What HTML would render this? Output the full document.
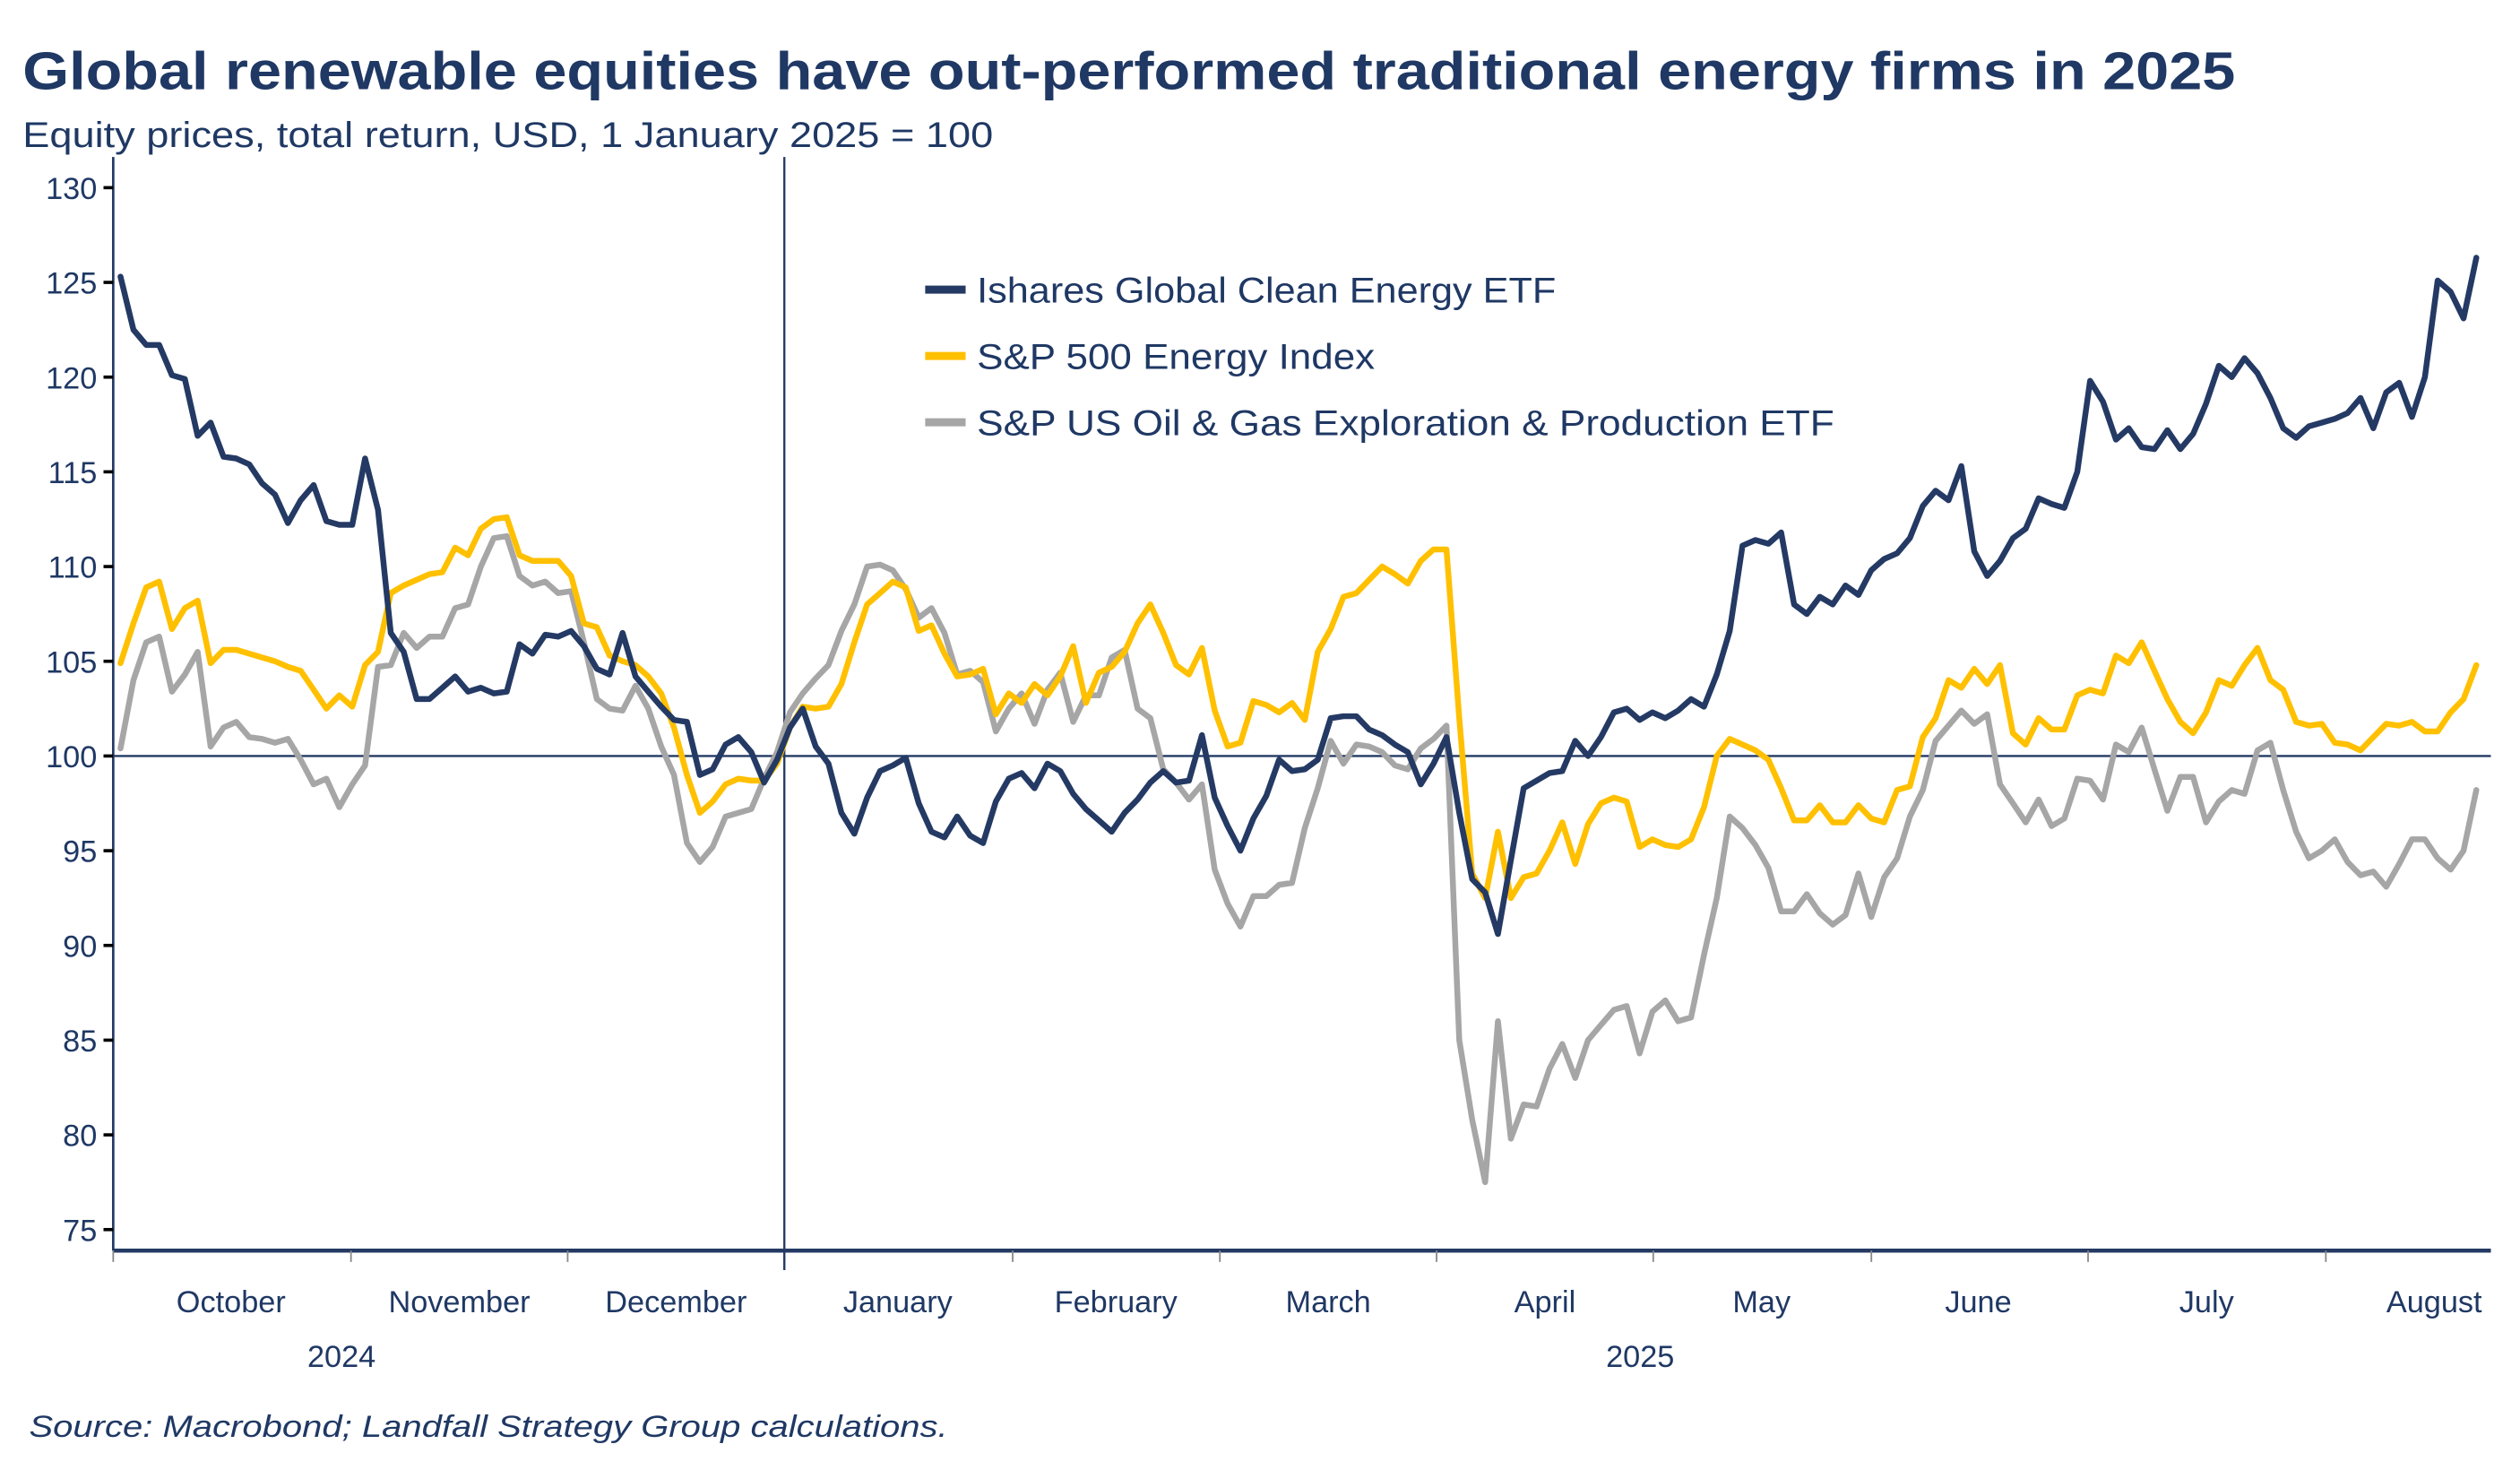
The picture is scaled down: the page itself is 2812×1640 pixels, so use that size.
<!DOCTYPE html>
<html><head><meta charset="utf-8"><style>
html,body{margin:0;padding:0;background:#fff}
svg{display:block}
text{font-family:"Liberation Sans",sans-serif;fill:#1f3864}
</style></head><body>
<svg id="chart" width="2812" height="1640" viewBox="0 0 1558 908.6" preserveAspectRatio="none" xmlns="http://www.w3.org/2000/svg">
<text x="14" y="55" font-size="33" font-weight="bold" textLength="1368" lengthAdjust="spacingAndGlyphs">Global renewable equities have out-performed traditional energy firms in 2025</text>
<text x="14" y="91" font-size="22" textLength="600" lengthAdjust="spacingAndGlyphs">Equity prices, total return, USD, 1 January 2025 = 100</text>
<g id="axes"></g>
<g id="series"></g>
<g>
<line x1="572" x2="597" y1="179" y2="179" stroke="#243a64" stroke-width="5"/>
<text x="604" y="187" font-size="22" textLength="358" lengthAdjust="spacingAndGlyphs">Ishares Global Clean Energy ETF</text>
<line x1="572" x2="597" y1="220" y2="220" stroke="#ffc000" stroke-width="5"/>
<text x="604" y="228" font-size="22" textLength="246" lengthAdjust="spacingAndGlyphs">S&amp;P 500 Energy Index</text>
<line x1="572" x2="597" y1="261" y2="261" stroke="#a6a6a6" stroke-width="5"/>
<text x="604" y="269" font-size="22" textLength="530" lengthAdjust="spacingAndGlyphs">S&amp;P US Oil &amp; Gas Exploration &amp; Production ETF</text>
</g>
<text x="18" y="888" font-size="19" font-style="italic" textLength="568" lengthAdjust="spacingAndGlyphs">Source: Macrobond; Landfall Strategy Group calculations.</text>
</svg>
<script>
const yTicks = [75,80,85,90,95,100,105,110,115,120,125,130];
const months = ["October","November","December","January","February","March","April","May","June","July","August"];
const monthLabelDays = [16.2,47.6,77.4,107.9,137.9,167.1,196.9,226.7,256.5,287.9,319.2];
const monthTickDays = [0,32.7,62.5,92.3,123.7,152.2,182,211.8,241.8,271.6,304.3];
const axisEndDay = 327;
const years = ["2024","2025"];
const yearCenterDays = [31.4,210];
const seriesStartDay = 1;
const seriesEndDay = 325;
const cleanEnergy = [125.3,122.5,121.7,121.7,120.1,119.9,116.9,117.6,115.8,115.7,
115.4,114.4,113.8,112.3,113.5,114.3,112.4,112.2,112.2,115.7,
113,106.5,105.5,103,103,103.6,104.2,103.4,103.6,103.3,
103.4,105.9,105.4,106.4,106.3,106.6,105.8,104.6,104.3,106.5,
104.2,103.4,102.6,101.9,101.8,99,99.3,100.6,101,100.2,
98.6,99.8,101.5,102.5,100.5,99.6,97,95.9,97.8,99.2,
99.5,99.9,97.5,96,95.7,96.8,95.8,95.4,97.6,98.8,
99.1,98.3,99.6,99.2,98,97.2,96.6,96,97,97.7,
98.6,99.2,98.6,98.7,101.1,97.8,96.3,95,96.7,97.9,
99.8,99.2,99.3,99.8,102,102.1,102.1,101.4,101.1,100.6,
100.2,98.5,99.6,101,97,93.5,92.8,90.6,94.5,98.3,
98.7,99.1,99.2,100.8,100,101,102.3,102.5,101.9,102.3,
102,102.4,103,102.6,104.3,106.6,111.1,111.4,111.2,111.8,
108,107.5,108.4,108,109,108.5,109.8,110.4,110.7,111.5,
113.2,114,113.5,115.3,110.8,109.5,110.3,111.5,112,113.6,
113.3,113.1,115,119.8,118.7,116.7,117.3,116.3,116.2,117.2,
116.2,117,118.6,120.6,120,121,120.2,118.9,117.3,116.8,
117.4,117.6,117.8,118.1,118.9,117.3,119.2,119.7,117.9,120,
125.1,124.5,123.1,126.3];
const spEnergy = [104.9,107,108.9,109.2,106.7,107.8,108.2,104.9,105.6,105.6,
105.4,105.2,105,104.7,104.5,103.5,102.5,103.2,102.6,104.8,
105.5,108.6,109,109.3,109.6,109.7,111,110.6,112,112.5,
112.6,110.6,110.3,110.3,110.3,109.5,107,106.8,105.3,105,
104.8,104.2,103.3,101.5,99,97,97.6,98.5,98.8,98.7,
98.7,99.6,101.5,102.6,102.5,102.6,103.8,106,108,108.6,
109.2,108.9,106.6,106.9,105.4,104.2,104.3,104.6,102.2,103.3,
102.8,103.8,103.2,104.2,105.8,102.8,104.4,104.7,105.5,107,
108,106.5,104.8,104.3,105.7,102.4,100.5,100.7,102.9,102.7,
102.3,102.8,101.9,105.5,106.7,108.4,108.6,109.3,110,109.6,
109.1,110.3,110.9,110.9,102,93.8,92.5,96,92.5,93.6,
93.8,95,96.5,94.3,96.4,97.5,97.8,97.6,95.2,95.6,
95.3,95.2,95.6,97.3,100,100.9,100.6,100.3,99.8,98.3,
96.6,96.6,97.4,96.5,96.5,97.4,96.7,96.5,98.2,98.4,
101,102,104,103.6,104.6,103.8,104.8,101.2,100.6,102,
101.4,101.4,103.2,103.5,103.3,105.3,104.9,106,104.5,103,
101.8,101.2,102.3,104,103.7,104.8,105.7,104,103.5,101.8,
101.6,101.7,100.7,100.6,100.3,101,101.7,101.6,101.8,101.3,
101.3,102.3,103,104.8];
const oilGas = [100.4,104,106,106.3,103.4,104.3,105.5,100.5,101.5,101.8,
101,100.9,100.7,100.9,99.8,98.5,98.8,97.3,98.5,99.5,
104.7,104.8,106.5,105.7,106.3,106.3,107.8,108,110,111.5,
111.6,109.5,109,109.2,108.6,108.7,106,103,102.5,102.4,
103.7,102.5,100.5,99,95.4,94.4,95.2,96.8,97,97.2,
98.8,100.2,102.3,103.3,104.1,104.8,106.6,108,110,110.1,
109.8,108.8,107.3,107.8,106.5,104.3,104.5,103.9,101.3,102.5,
103.3,101.7,103.5,104.4,101.8,103.2,103.2,105.2,105.6,102.5,
102,99.3,98.6,97.7,98.5,94,92.2,91,92.6,92.6,
93.2,93.3,96.2,98.3,100.8,99.6,100.6,100.5,100.2,99.5,
99.3,100.4,100.9,101.6,85,80.8,77.5,86,79.8,81.6,
81.5,83.5,84.8,83,85,85.8,86.6,86.8,84.3,86.5,
87.1,86,86.2,89.5,92.5,96.8,96.2,95.3,94.1,91.8,
91.8,92.7,91.7,91.1,91.6,93.8,91.5,93.6,94.6,96.8,
98.2,100.8,101.6,102.4,101.7,102.2,98.5,97.5,96.5,97.7,
96.3,96.7,98.8,98.7,97.7,100.6,100.2,101.5,99.3,97.1,
98.9,98.9,96.5,97.6,98.2,98,100.3,100.7,98.2,96,
94.6,95,95.6,94.4,93.7,93.9,93.1,94.3,95.6,95.6,
94.6,94,95,98.2];

const NS="http://www.w3.org/2000/svg";
const PX0=70, PX1=1540, PY0=97, PYB=773;
function xDay(d){return PX0+d*(PX1-PX0)/axisEndDay;}
function yVal(v){return 116+(130-v)*(760-116)/55;}
function mk(tag,attrs,parent){const e=document.createElementNS(NS,tag);for(const k in attrs)e.setAttribute(k,attrs[k]);parent.appendChild(e);return e;}
const axes=document.getElementById('axes');
const ser=document.getElementById('series');

let yl=mk('line',{x1:PX0,x2:PX0,y1:PY0,y2:PYB,stroke:'#243a64','stroke-width':1.5},axes);


yTicks.forEach(t=>{
  const y=yVal(t);
  const tk=mk('line',{x1:PX0-6,x2:PX0,y1:y,y2:y,stroke:'#000','stroke-width':2},axes);
  
  
  const tx=mk('text',{x:PX0-10,y:y+7,'font-size':19,'text-anchor':'end'},axes);
  tx.textContent=t;
  
  
});
let xl=mk('line',{x1:PX0,x2:PX1,y1:PYB,y2:PYB,stroke:'#243a64','stroke-width':2.5},axes);


monthTickDays.forEach((d,i)=>{
  const x=xDay(d);
  const big=months[i]==="January";
  const tk=mk('line',{x1:x,x2:x,y1:PYB,y2:PYB+(big?12:7),stroke:big?'#000':'#888','stroke-width':1},axes);
  
  
});
months.forEach((m,i)=>{
  const tx=mk('text',{x:xDay(monthLabelDays[i]),y:811,'font-size':19,'text-anchor':'middle'},axes);
  tx.textContent=m;
  
  
});
years.forEach((yr,i)=>{
  const tx=mk('text',{x:xDay(yearCenterDays[i]),y:845,'font-size':19,'text-anchor':'middle'},axes);
  tx.textContent=yr;
  
  
});
let vl=mk('line',{x1:xDay(92.3),x2:xDay(92.3),y1:PY0,y2:PYB+12,stroke:'#243a64','stroke-width':1.3},axes);


let hl=mk('line',{x1:PX0,x2:PX1,y1:yVal(100),y2:yVal(100),stroke:'#243a64','stroke-width':1.3},axes);



function drawSeries(vals,color,name){
  const n=vals.length;
  const pts=vals.map((v,i)=>{const d=seriesStartDay+i*(seriesEndDay-seriesStartDay)/(n-1);return xDay(d).toFixed(1)+','+yVal(v).toFixed(1);}).join(' ');
  const p=mk('polyline',{points:pts,fill:'none',stroke:color,'stroke-width':3.6,'stroke-linejoin':'round','stroke-linecap':'round'},ser);
  
  
}
drawSeries(oilGas,'#a6a6a6','series-oil-gas-line');
drawSeries(spEnergy,'#ffc000','series-sp500-energy-line');
drawSeries(cleanEnergy,'#243a64','series-clean-energy-line');
</script>
</body></html>
